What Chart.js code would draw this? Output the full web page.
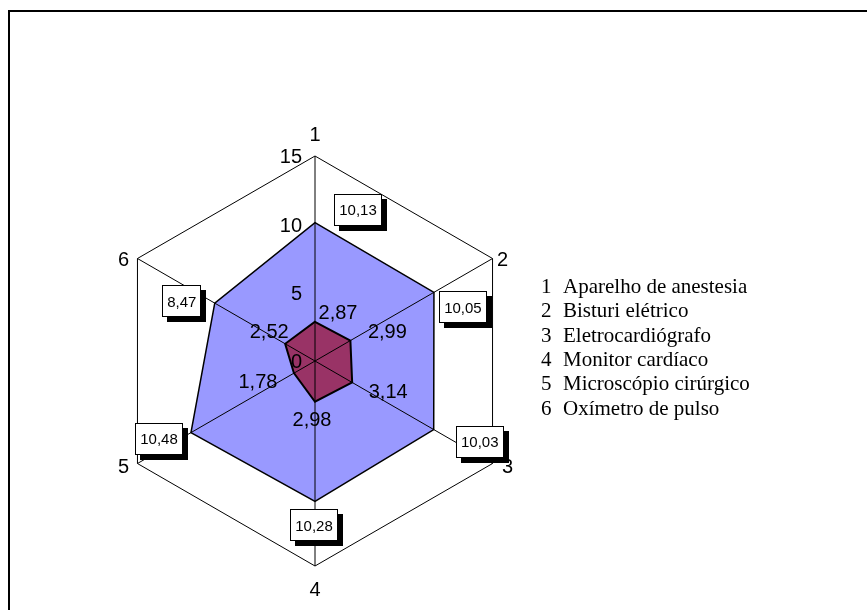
<!DOCTYPE html>
<html>
<head>
<meta charset="utf-8">
<script src="https://cdn.jsdelivr.net/npm/chart.js@4/dist/chart.umd.min.js"></script>
<style>
  html, body { margin: 0; padding: 0; background: #fff; }
  #wrap { width: 867px; height: 610px; position: relative; }
</style>
</head>
<body>
<div id="wrap"><canvas id="c" width="867" height="610"></canvas></div>
<script>
// Axis numbers and the equipment each one stands for
const axisLabels = ['1', '2', '3', '4', '5', '6'];
const equipmentNames = [
  'Aparelho de anestesia',
  'Bisturi elétrico',
  'Eletrocardiógrafo',
  'Monitor cardíaco',
  'Microscópio cirúrgico',
  'Oxímetro de pulso'
];
// Series values
const outerValues = [10.13, 10.05, 10.03, 10.28, 10.48, 8.47];
const innerValues = [2.87, 2.99, 3.14, 2.98, 1.78, 2.52];
// Radial scale
const scaleMin = 0;
const scaleMax = 15;
const scaleStep = 5;

// Label placement nudges (pixels)
const axisLabelNudge = [[0, -22], [10, 0], [15, 2], [0, 23], [-14, 2], [-14, 0]];
const outerLabelNudge = [[43, -13], [29, 15], [46, 12], [-1, 24], [-32, 6], [-33, -2]];
const innerLabelNudge = [[23, -10], [37, -10], [36, 8], [-3, 17], [-36, 8], [-16, -13]];

const SANS = '"Liberation Sans", Arial, sans-serif';
const SERIF = '"Liberation Serif", "Times New Roman", serif';

const fmt = v => v.toFixed(2).replace('.', ',');

// text drawn with its digits centred on (x, cy)
function centredText(ctx, text, x, cy, size, align) {
  ctx.textAlign = align || 'center';
  ctx.textBaseline = 'alphabetic';
  ctx.fillText(text, x, cy + 0.36 * size);
}

const decorations = {
  id: 'decorations',
  beforeDraw(chart) {
    const ctx = chart.ctx;
    ctx.save();
    ctx.fillStyle = '#fff';
    ctx.fillRect(0, 0, chart.width, chart.height);
    // outer frame
    ctx.fillStyle = '#000';
    ctx.fillRect(8, 10, 2, chart.height - 10);
    ctx.fillRect(8, 10, chart.width - 8, 2);
    ctx.restore();
  },
  afterDatasetsDraw(chart) {
    const ctx = chart.ctx;
    const s = chart.scales.r;
    ctx.save();

    // spokes over the filled areas
    ctx.strokeStyle = '#000';
    ctx.lineWidth = 1;
    for (let i = 0; i < axisLabels.length; i++) {
      const p = s.getPointPositionForValue(i, s.max);
      ctx.beginPath();
      ctx.moveTo(s.xCenter, s.yCenter);
      ctx.lineTo(p.x, p.y);
      ctx.stroke();
    }

    ctx.fillStyle = '#000';
    // tick labels beside the first spoke
    ctx.font = '20px ' + SANS;
    s.ticks.forEach(t => {
      const p = s.getPointPositionForValue(0, t.value);
      centredText(ctx, t.label, p.x - 13, p.y, 20, 'right');
    });

    // axis numbers
    axisLabels.forEach((lab, i) => {
      const p = s.getPointPositionForValue(i, s.max);
      const n = axisLabelNudge[i];
      centredText(ctx, lab, p.x + n[0], p.y + n[1], 20, 'center');
    });

    // values of the inner series
    const innerMeta = chart.getDatasetMeta(1);
    innerMeta.data.forEach((pt, i) => {
      const n = innerLabelNudge[i];
      centredText(ctx, fmt(innerValues[i]), pt.x + n[0], pt.y + n[1], 20, 'center');
    });

    // boxed values of the outer series
    const outerMeta = chart.getDatasetMeta(0);
    ctx.font = '15px ' + SANS;
    outerMeta.data.forEach((pt, i) => {
      const n = outerLabelNudge[i];
      const txt = fmt(outerValues[i]);
      const w = Math.round(ctx.measureText(txt).width + 10);
      const h = 32;
      const cx = pt.x + n[0], cy = pt.y + n[1];
      const x0 = Math.round(cx - w / 2), y0 = Math.round(cy - h / 2);
      ctx.fillStyle = '#000';
      ctx.fillRect(x0 + 5, y0 + 5, w, h);
      ctx.fillStyle = '#fff';
      ctx.fillRect(x0, y0, w, h);
      ctx.strokeStyle = '#000';
      ctx.lineWidth = 1;
      ctx.strokeRect(x0 + 0.5, y0 + 0.5, w - 1, h - 1);
      ctx.fillStyle = '#000';
      centredText(ctx, txt, cx, cy, 15, 'center');
    });

    // category key
    ctx.font = '21px ' + SERIF;
    ctx.textBaseline = 'alphabetic';
    equipmentNames.forEach((name, i) => {
      const y = 293 + i * 24.3;
      ctx.textAlign = 'left';
      ctx.fillText(axisLabels[i], 541, y);
      ctx.fillText(name, 563, y);
    });

    ctx.restore();
  }
};

new Chart(document.getElementById('c'), {
  type: 'radar',
  data: {
    labels: axisLabels,
    datasets: [
      {
        label: 'outer',
        data: outerValues,
        backgroundColor: '#9999FF',
        borderColor: '#000',
        borderWidth: 1.5,
        pointRadius: 0,
        fill: true,
        order: 2
      },
      {
        label: 'inner',
        data: innerValues,
        backgroundColor: '#993366',
        borderColor: '#000',
        borderWidth: 2,
        pointRadius: 0,
        fill: true,
        order: 1
      }
    ]
  },
  options: {
    responsive: false,
    animation: false,
    layout: { padding: { left: 110, right: 347, top: 156, bottom: 44 } },
    plugins: { legend: { display: false }, tooltip: { enabled: false } },
    scales: {
      r: {
        min: scaleMin,
        max: scaleMax,
        ticks: { stepSize: scaleStep, display: false },
        pointLabels: { display: false },
        angleLines: { display: false },
        grid: {
          lineWidth: 1,
          color: c => (c.tick && c.tick.value === scaleMax) ? '#000' : 'rgba(0,0,0,0)'
        }
      }
    }
  },
  plugins: [decorations]
});
</script>
</body>
</html>
